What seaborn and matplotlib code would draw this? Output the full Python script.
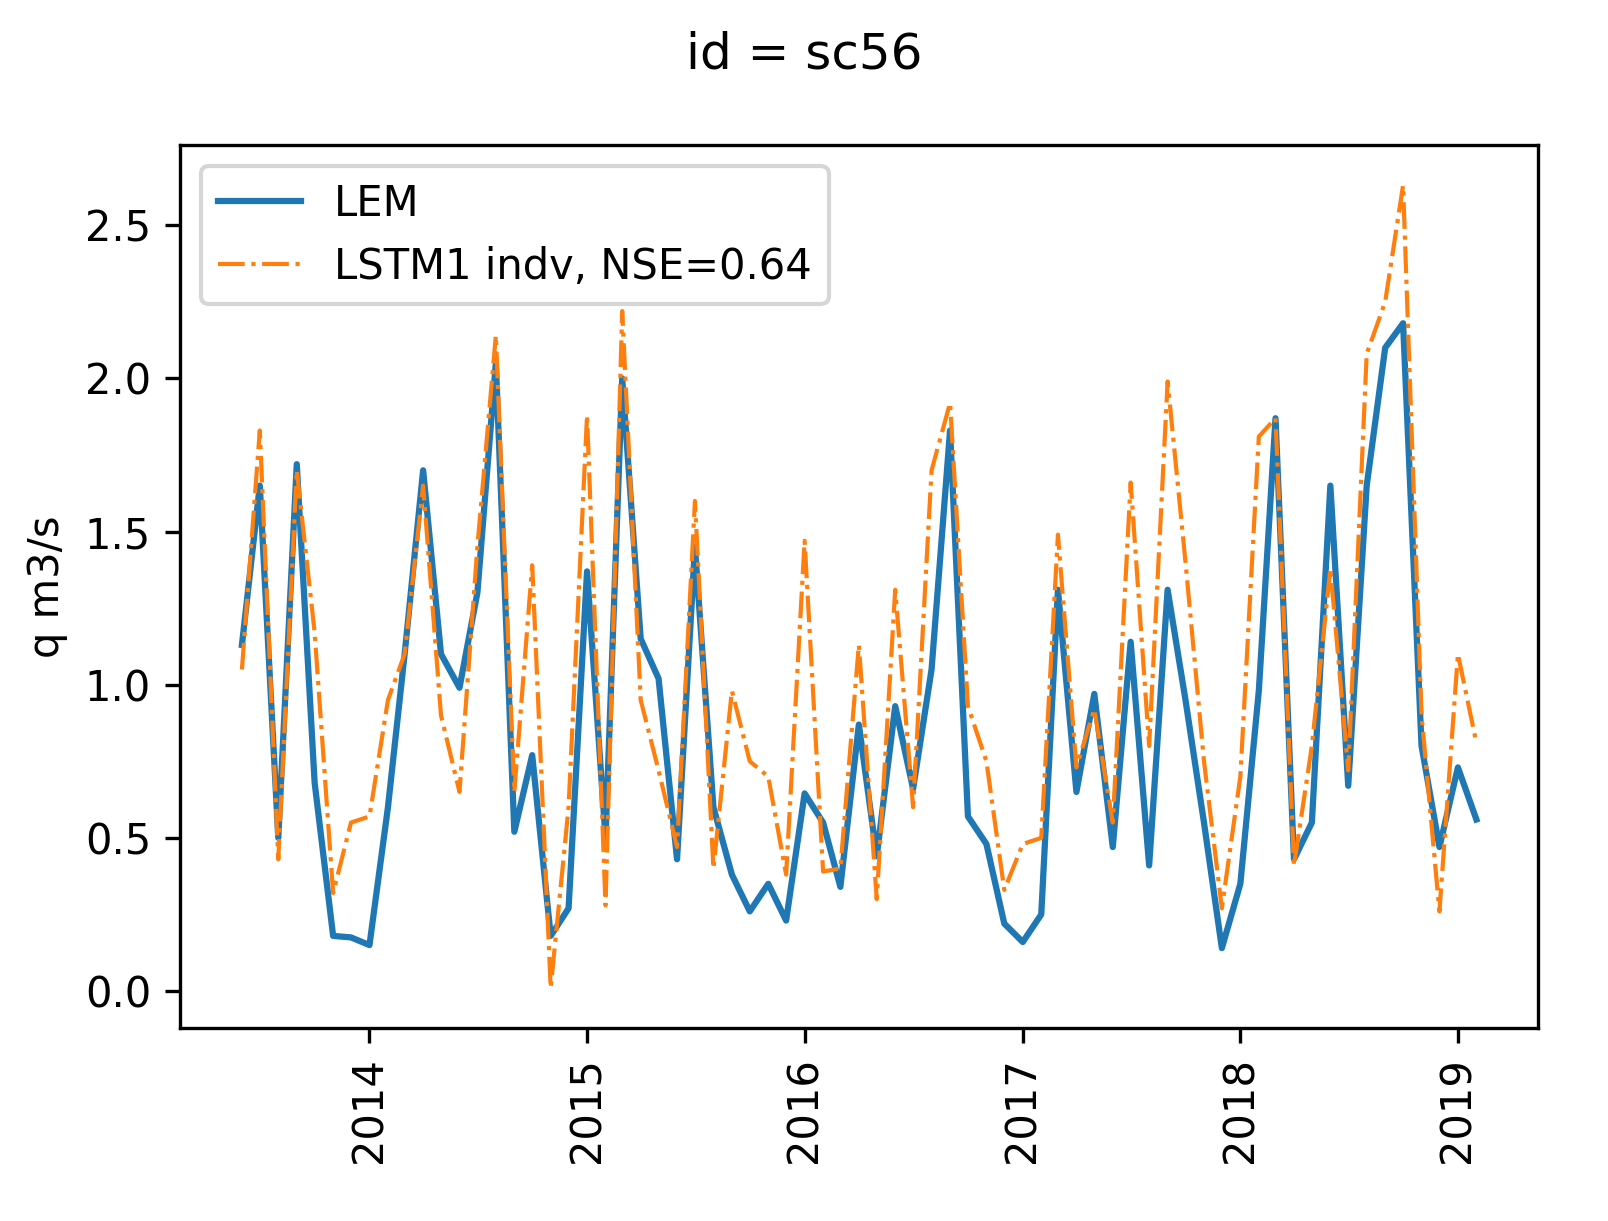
import pandas as pd
import matplotlib
matplotlib.use('Agg')
import matplotlib.pyplot as plt
import seaborn as sns

dates = pd.date_range('2013-06-01', '2019-02-01', freq='MS')

lem = [1.13, 1.65, 0.5, 1.72, 0.68, 0.18, 0.175,
       0.15, 0.6, 1.1, 1.7, 1.1, 0.99, 1.3, 2.05, 0.52, 0.77, 0.18, 0.27,
       1.37, 0.5, 2.0, 1.15, 1.02, 0.43, 1.45, 0.6, 0.38, 0.26, 0.35, 0.23,
       0.645, 0.55, 0.34, 0.87, 0.44, 0.93, 0.66, 1.05, 1.83, 0.57, 0.48, 0.22,
       0.16, 0.25, 1.31, 0.65, 0.97, 0.47, 1.14, 0.41, 1.31, 0.95, 0.55, 0.14,
       0.35, 0.98, 1.87, 0.43, 0.55, 1.65, 0.67, 1.65, 2.1, 2.18, 0.8, 0.47,
       0.73, 0.56]

lstm = [1.05, 1.83, 0.43, 1.7, 1.17, 0.32, 0.55,
        0.57, 0.95, 1.1, 1.65, 0.9, 0.65, 1.45, 2.14, 0.65, 1.39, 0.01, 0.6,
        1.88, 0.28, 2.22, 0.95, 0.72, 0.47, 1.6, 0.4, 0.98, 0.75, 0.7, 0.38,
        1.47, 0.39, 0.4, 1.13, 0.3, 1.31, 0.6, 1.7, 1.92, 0.93, 0.75, 0.33,
        0.48, 0.5, 1.49, 0.73, 0.92, 0.55, 1.66, 0.8, 1.99, 1.4, 0.75, 0.27,
        0.7, 1.81, 1.87, 0.41, 0.8, 1.38, 0.72, 2.08, 2.25, 2.63, 0.9, 0.26,
        1.1, 0.81]

fig, ax = plt.subplots(figsize=(5.363, 4.07), dpi=300)
fig.subplots_adjust(left=0.112, right=0.956, top=0.881, bottom=0.158)

sns.lineplot(x=dates, y=lem, ax=ax, color='#1f77b4', linewidth=1.5, label='LEM')
sns.lineplot(x=dates, y=lstm, ax=ax, color='#ff7f0e', linewidth=1, linestyle='-.',
             label='LSTM1 indv, NSE=0.64')

ax.set_ylabel('q m3/s')
ax.set_xlabel('')
ax.tick_params(axis='x', rotation=90)
ax.legend(loc='upper left')
fig.suptitle('id = sc56', y=0.975)

plt.savefig('out.png', dpi=300)
